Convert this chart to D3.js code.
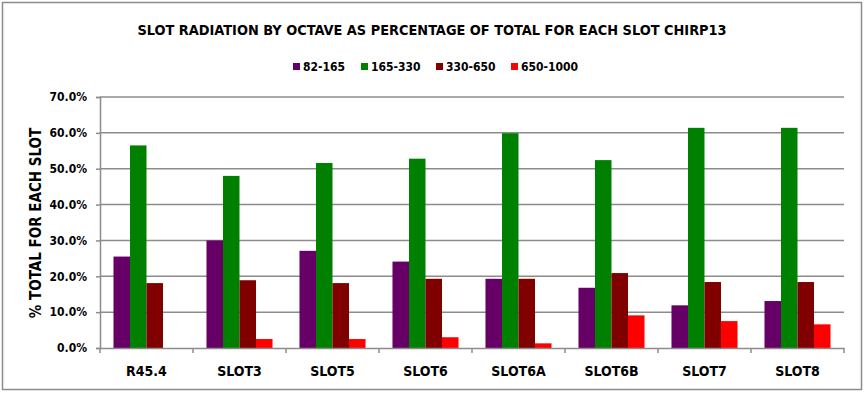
<!DOCTYPE html>
<html>
<head>
<meta charset="utf-8">
<script src="https://cdn.jsdelivr.net/npm/d3@7"></script>
<style>
  body { margin: 0; background: #fff; }
  svg text { font-family: "Liberation Sans Narrow", "Arial Narrow", "DejaVu Sans Condensed", sans-serif; font-weight: bold; fill: #000; }
</style>
</head>
<body>
<div id="chart"></div>
<script>
// Catégories et séries
const categories = ['R45.4', 'SLOT3', 'SLOT5', 'SLOT6', 'SLOT6A', 'SLOT6B', 'SLOT7', 'SLOT8'];
const seriesNames = ['82-165', '165-330', '330-650', '650-1000'];
const s82_165 = [25.5, 30.0, 27.1, 24.1, 19.3, 16.8, 11.9, 13.1];
const s165_330 = [56.5, 48.0, 51.6, 52.8, 59.9, 52.4, 61.4, 61.4];
const s330_650 = [18.1, 18.9, 18.1, 19.3, 19.3, 20.9, 18.4, 18.4];
const s650_1000 = [0, 2.5, 2.5, 3.0, 1.3, 9.1, 7.5, 6.6];
const yTicks = [0, 10, 20, 30, 40, 50, 60, 70];
const colors = ['#660066', '#008000', '#800000', '#ff0000'];

const series = [s82_165, s165_330, s330_650, s650_1000];

const W = 865, H = 393;
const margin = { top: 97, right: 21, bottom: 45, left: 100 };
const width = W - margin.left - margin.right;
const height = H - margin.top - margin.bottom;

const svg = d3.select('#chart').append('svg')
    .attr('width', W)
    .attr('height', H);

// cadre extérieur
svg.append('rect')
    .attr('x', 2.5).attr('y', 2.5)
    .attr('width', W - 6).attr('height', H - 6)
    .attr('fill', '#fff')
    .attr('stroke', '#8c8c8c')
    .attr('stroke-width', 1.5);

svg.append('text')
    .attr('x', 432)
    .attr('y', 35)
    .attr('text-anchor', 'middle')
    .style('font-size', '14.4px')
    .text('SLOT RADIATION BY OCTAVE AS PERCENTAGE OF TOTAL FOR EACH SLOT CHIRP13');

// légende
const legendX = [293, 361, 436, 511];
const legend = svg.append('g');
seriesNames.forEach((name, i) => {
    legend.append('rect')
        .attr('x', legendX[i]).attr('y', 63)
        .attr('width', 7).attr('height', 7)
        .attr('fill', colors[i]);
    legend.append('text')
        .attr('x', legendX[i] + 10).attr('y', 71)
        .style('font-size', '12px')
        .text(name);
});

const g = svg.append('g')
    .attr('transform', `translate(${margin.left},${margin.top})`);

const x0 = d3.scaleBand()
    .domain(categories)
    .range([0, width])
    .paddingInner(0.29)
    .paddingOuter(0.145);

const x1 = d3.scaleBand()
    .domain(d3.range(series.length))
    .range([0, x0.bandwidth()]);

const y = d3.scaleLinear()
    .domain([0, 70])
    .range([height, 0]);

// grille
g.append('g')
    .selectAll('line')
    .data(yTicks.slice(1))
    .enter()
    .append('line')
    .attr('x1', 0).attr('x2', width)
    .attr('y1', d => y(d)).attr('y2', d => y(d))
    .attr('stroke', '#8c8c8c')
    .attr('stroke-width', 1.5);

// axe y
const yAxis = g.append('g')
    .call(d3.axisLeft(y).tickValues(yTicks).tickSize(4).tickFormat(d => d.toFixed(1) + '%'));
yAxis.select('.domain').attr('stroke', '#8c8c8c').attr('stroke-width', 1.5);
yAxis.selectAll('.tick line').attr('stroke', '#8c8c8c').attr('stroke-width', 1.5);
yAxis.selectAll('.tick text').attr('x', -13).style('font-size', '12px');

// barres
const groups = g.selectAll('.grp')
    .data(categories)
    .enter()
    .append('g')
    .attr('transform', d => `translate(${x0(d)},0)`);

groups.selectAll('rect')
    .data((d, i) => series.map((s, k) => ({ k: k, v: s[i] })))
    .enter()
    .append('rect')
    .attr('x', d => x1(d.k))
    .attr('y', d => y(d.v))
    .attr('width', x1.bandwidth())
    .attr('height', d => height - y(d.v))
    .attr('fill', d => colors[d.k]);

// axe x
const xAxis = g.append('g')
    .attr('transform', `translate(0,${height})`)
    .call(d3.axisBottom(x0).tickSize(0).tickPadding(18));
xAxis.select('.domain').attr('stroke', '#8c8c8c').attr('stroke-width', 1.5);
xAxis.selectAll('.tick text').style('font-size', '14px');

// petites graduations entre catégories
g.append('g')
    .selectAll('line')
    .data(d3.range(categories.length + 1))
    .enter()
    .append('line')
    .attr('x1', i => i * x0.step()).attr('x2', i => i * x0.step())
    .attr('y1', height).attr('y2', height + 5)
    .attr('stroke', '#8c8c8c')
    .attr('stroke-width', 1.5);

// titre de l'axe y
svg.append('text')
    .attr('transform', 'translate(41,223) rotate(-90)')
    .attr('text-anchor', 'middle')
    .style('font-size', '15px')
    .text('% TOTAL FOR EACH SLOT');
</script>
</body>
</html>
